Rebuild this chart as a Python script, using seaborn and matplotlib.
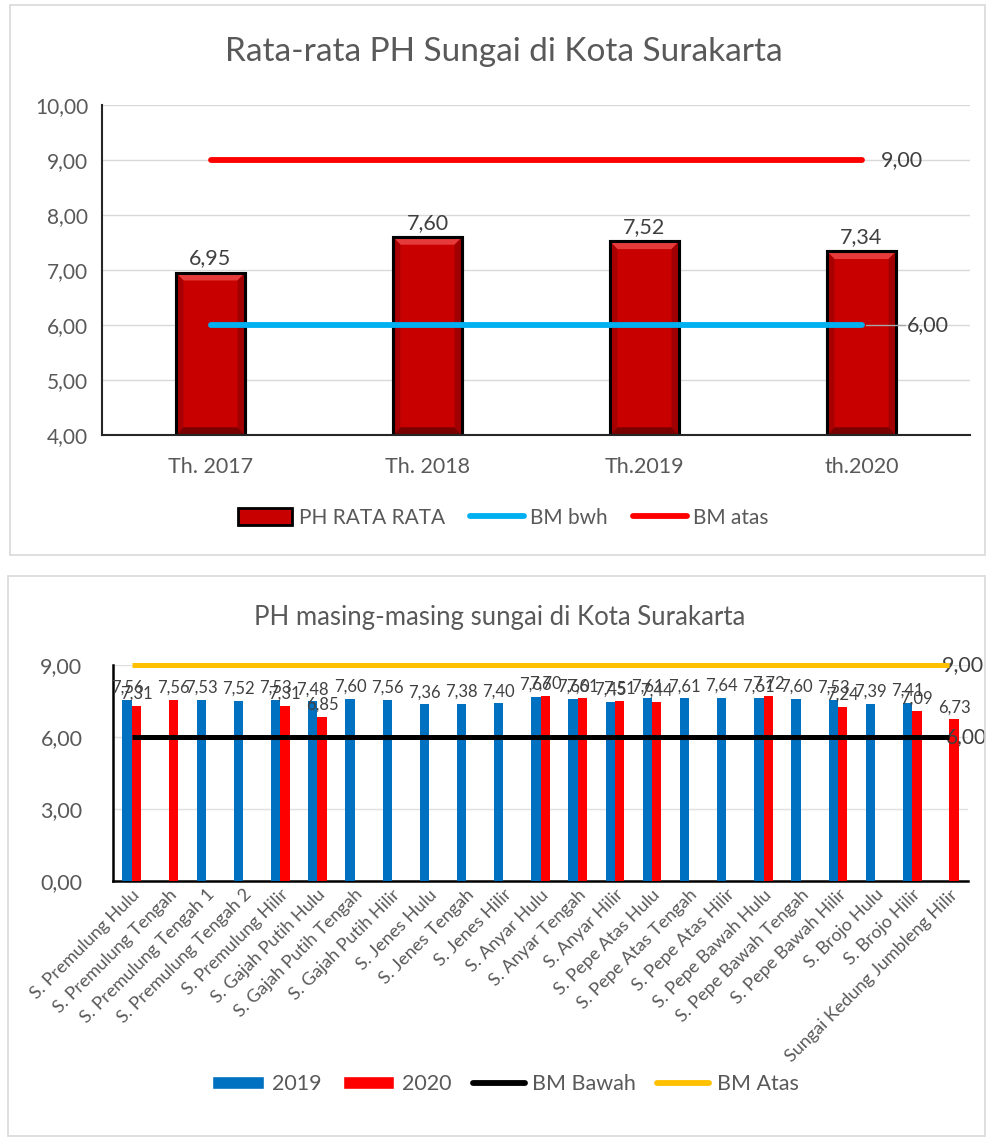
import numpy as np
import pandas as pd
import matplotlib
matplotlib.use("Agg")
import matplotlib.pyplot as plt
from matplotlib.patches import Rectangle, Patch, Polygon
from matplotlib.lines import Line2D
import seaborn as sns

# ---------------- data ----------------
years_top = ["Th. 2017", "Th. 2018", "Th.2019", "th.2020"]
ph_avg = [6.95, 7.60, 7.52, 7.34]
bm_bwh_top = [6.0, 6.0, 6.0, 6.0]
bm_atas_top = [9.0, 9.0, 9.0, 9.0]

rivers = ["S. Premulung Hulu", "S. Premulung Tengah", "S. Premulung Tengah 1",
          "S. Premulung Tengah 2", "S. Premulung Hilir", "S. Gajah Putih Hulu",
          "S. Gajah Putih Tengah", "S. Gajah Putih Hilir", "S. Jenes Hulu",
          "S. Jenes Tengah", "S. Jenes Hilir", "S. Anyar Hulu", "S. Anyar Tengah",
          "S. Anyar Hilir", "S. Pepe Atas Hulu", "S. Pepe Atas Tengah",
          "S. Pepe Atas Hilir", "S. Pepe Bawah Hulu", "S. Pepe Bawah Tengah",
          "S. Pepe Bawah Hilir", "S. Brojo Hulu", "S. Brojo Hilir",
          "Sungai Kedung Jumbleng Hilir"]
ph_2019 = [7.56, np.nan, 7.53, 7.52, 7.53, 7.48, 7.60, 7.56, 7.36, 7.38, 7.40,
           7.66, 7.60, 7.45, 7.61, 7.61, 7.64, 7.61, 7.60, 7.53, 7.39, 7.41, np.nan]
ph_2020 = [7.31, 7.56, np.nan, np.nan, 7.31, 6.85, np.nan, np.nan, np.nan, np.nan,
           np.nan, 7.70, 7.61, 7.51, 7.44, np.nan, np.nan, 7.72, np.nan, 7.24,
           np.nan, 7.09, 6.73]
bm_bawah = [6.0] * len(rivers)
bm_atas = [9.0] * len(rivers)

# ---------------- style ----------------
sns.set_theme(style="white")
plt.rcParams["font.family"] = ["Lato", "DejaVu Sans"]
TXT = "#595959"

def fmt(v):
    return f"{v:.2f}".replace(".", ",")

fig = plt.figure(figsize=(9.93, 11.39), dpi=100)
W, H = 993, 1139

# panel borders
fig.patches.append(Rectangle((10 / W, 1 - 555 / H), 975 / W, 550 / H, transform=fig.transFigure,
                             fill=False, edgecolor="#D9D9D9", lw=1.2))
fig.patches.append(Rectangle((8 / W, 1 - 1136 / H), 977 / W, 560 / H, transform=fig.transFigure,
                             fill=False, edgecolor="#D9D9D9", lw=1.2))

# ================= TOP CHART =================
ax1 = fig.add_axes([102 / W, 1 - 435 / H, 868 / W, 330 / H])
df_top = pd.DataFrame({"year": years_top, "ph": ph_avg})
sns.barplot(data=df_top, x="year", y="ph", ax=ax1, color="#C80000", width=0.32,
            edgecolor="black", linewidth=2.2, saturation=1, zorder=3)
ax1.set_ylim(4, 10)
ax1.set_xlim(-0.5, len(years_top) - 0.5)
ybot = ax1.get_ylim()[0]
for p in ax1.patches:
    x0, w, top = p.get_x(), p.get_width(), p.get_height()
    dx, dy = w * 0.11, 0.14
    x1 = x0 + w
    ax1.add_patch(Polygon([(x0, top), (x1, top), (x1 - dx, top - dy), (x0 + dx, top - dy)],
                          closed=True, facecolor="#E53B3B", edgecolor="none", zorder=4))
    ax1.add_patch(Polygon([(x0, ybot), (x1, ybot), (x1 - dx, ybot + dy), (x0 + dx, ybot + dy)],
                          closed=True, facecolor="#7A0000", edgecolor="none", zorder=4))
    ax1.add_patch(Polygon([(x0, ybot), (x0, top), (x0 + dx, top - dy), (x0 + dx, ybot + dy)],
                          closed=True, facecolor="#A80000", edgecolor="none", zorder=4))
    ax1.add_patch(Polygon([(x1, ybot), (x1, top), (x1 - dx, top - dy), (x1 - dx, ybot + dy)],
                          closed=True, facecolor="#A00000", edgecolor="none", zorder=4))
    ax1.add_patch(Rectangle((x0, ybot), w, top - ybot, fill=False, edgecolor="black",
                            lw=2.2, zorder=5))
    ax1.annotate(fmt(top), (x0 + w / 2, top), xytext=(0, 3), textcoords="offset points",
                 ha="center", va="bottom", fontsize=15.5, color="#404040", zorder=6)

xs = np.arange(len(years_top))
ax1.plot(xs, bm_bwh_top, color="#00B0F0", lw=4.2, solid_capstyle="round", zorder=6)
ax1.plot(xs, bm_atas_top, color="#FF0000", lw=4.2, solid_capstyle="round", zorder=6)
# leader + end labels
ax1.plot([xs[-1] + 0.02, xs[-1] + 0.2], [bm_bwh_top[-1]] * 2, color="#A6A6A6", lw=1, zorder=5)
ax1.text(xs[-1] + 0.21, bm_bwh_top[-1], fmt(bm_bwh_top[-1]), ha="left", va="center",
         fontsize=15.5, color="#404040")
ax1.text(xs[-1] + 0.09, bm_atas_top[-1], fmt(bm_atas_top[-1]), ha="left", va="center",
         fontsize=15.5, color="#404040")

ax1.set_yticks(np.arange(4, 10.01, 1))
ax1.set_yticklabels([fmt(v) for v in np.arange(4, 10.01, 1)], fontsize=15, color=TXT)
ax1.tick_params(axis="x", labelsize=15.5, labelcolor=TXT, pad=16, length=0)
ax1.tick_params(axis="y", length=0, pad=10)
ax1.set_xlabel("")
ax1.set_ylabel("")
ax1.grid(axis="y", color="#D9D9D9", lw=1)
ax1.set_axisbelow(True)
for s in ["top", "right"]:
    ax1.spines[s].set_visible(False)
for s in ["bottom", "left"]:
    ax1.spines[s].set_color("#262626")
    ax1.spines[s].set_linewidth(1.5)
    ax1.spines[s].set_zorder(7)
fig.text(0.507, 1 - 52 / H, "Rata-rata PH Sungai di Kota Surakarta", ha="center", va="center",
         fontsize=24, color=TXT)
h1 = [Patch(facecolor="#C80000", edgecolor="black", lw=2),
      Line2D([], [], color="#00B0F0", lw=4.2, solid_capstyle="round"),
      Line2D([], [], color="#FF0000", lw=4.2, solid_capstyle="round")]
fig.legend(h1, ["PH RATA RATA", "BM bwh", "BM atas"], loc="center",
           bbox_to_anchor=(0.507, 1 - 518 / H), ncol=3, frameon=False, fontsize=15,
           labelcolor=TXT, handlelength=2.6, handleheight=0.9, columnspacing=1.2,
           handletextpad=0.3)

# ================= BOTTOM CHART =================
ax2 = fig.add_axes([113 / W, 1 - 881 / H, 855 / W, 216 / H])
df_b = pd.DataFrame({
    "river": rivers * 2,
    "year": ["2019"] * len(rivers) + ["2020"] * len(rivers),
    "ph": ph_2019 + ph_2020,
})
sns.barplot(data=df_b, x="river", y="ph", hue="year", order=rivers,
            hue_order=["2019", "2020"], palette={"2019": "#0070C0", "2020": "#FF0000"},
            width=0.5, saturation=1, ax=ax2, legend=False, zorder=3, linewidth=0)
ax2.set_ylim(0, 9)
ax2.set_xlim(-0.5, len(rivers) - 0.5)
for p in ax2.patches:
    h = p.get_height()
    if np.isfinite(h) and h > 0:
        ax2.annotate(fmt(h), (p.get_x() + p.get_width() / 2, h), xytext=(0, 3),
                     textcoords="offset points", ha="center", va="bottom",
                     fontsize=12, color="#404040", zorder=6)
xb = np.arange(len(rivers))
ax2.plot(xb, bm_bawah, color="black", lw=3.6, zorder=5, solid_capstyle="butt")
ax2.plot(xb, bm_atas, color="#FFC000", lw=3.6, zorder=5, solid_capstyle="butt", clip_on=False)
ax2.text(xb[-1] - 0.2, bm_atas[-1], fmt(bm_atas[-1]), ha="left", va="center",
         fontsize=15.5, color="#404040", zorder=4)
ax2.text(xb[-1] - 0.1, bm_bawah[-1], fmt(bm_bawah[-1]), ha="left", va="center",
         fontsize=15, color="#404040", zorder=4)

ax2.set_yticks([0, 3, 6, 9])
ax2.set_yticklabels([fmt(v) for v in [0, 3, 6, 9]], fontsize=15.5, color=TXT)
ax2.set_xticks(xb)
ax2.set_xticklabels(rivers, rotation=45, ha="right", rotation_mode="anchor",
                    fontsize=13, color=TXT)
ax2.tick_params(axis="both", length=0)
ax2.tick_params(axis="y", pad=22)
ax2.tick_params(axis="x", pad=4)
ax2.set_xlabel("")
ax2.set_ylabel("")
ax2.grid(axis="y", color="#E0E0E0", lw=1)
ax2.set_axisbelow(True)
for s in ["top", "right"]:
    ax2.spines[s].set_visible(False)
for s in ["left", "bottom"]:
    ax2.spines[s].set_color("black")
    ax2.spines[s].set_linewidth(1.8)
fig.text(0.503, 1 - 617 / H, "PH masing-masing sungai di Kota Surakarta", ha="center",
         va="center", fontsize=18.5, color=TXT)
h2 = [Patch(facecolor="#0070C0"), Patch(facecolor="#FF0000"),
      Line2D([], [], color="black", lw=4.2, solid_capstyle="round"),
      Line2D([], [], color="#FFC000", lw=4.2, solid_capstyle="round")]
fig.legend(h2, ["2019", "2020", "BM Bawah", "BM Atas"], loc="center",
           bbox_to_anchor=(0.509, 1 - 1084 / H), ncol=4, frameon=False, fontsize=15.5,
           labelcolor=TXT, handlelength=2.4, handleheight=0.6, columnspacing=1.0,
           handletextpad=0.35)

fig.savefig("out.png", dpi=100, facecolor="white")
